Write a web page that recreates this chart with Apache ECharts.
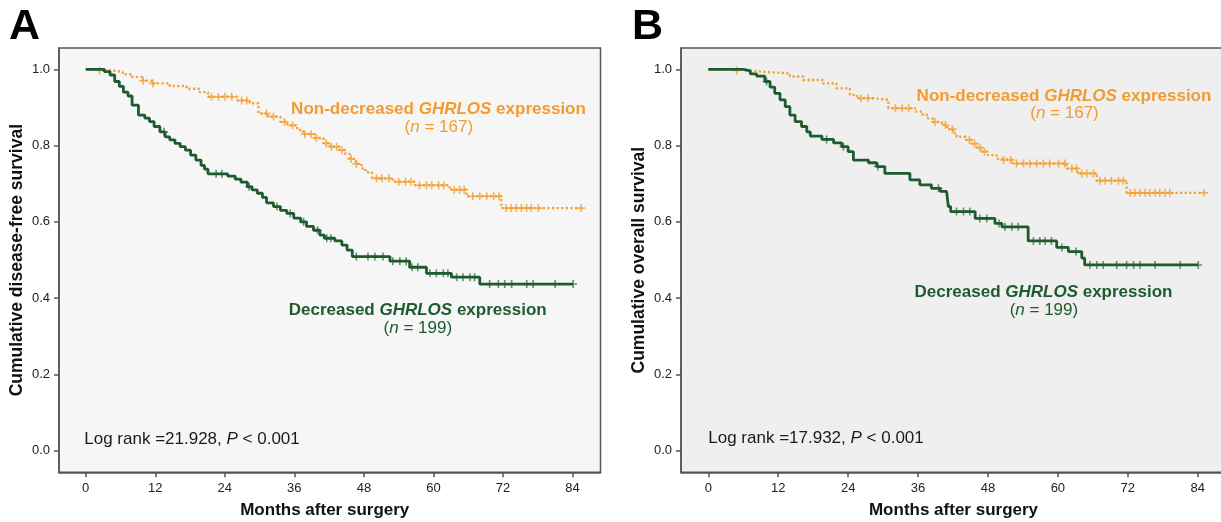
<!DOCTYPE html>
<html>
<head>
<meta charset="utf-8">
<script src="https://cdn.jsdelivr.net/npm/echarts@6/dist/echarts.min.js"></script>
<style>
html,body{margin:0;padding:0;background:#fff}
#chart{width:1221px;height:522px}
</style>
</head>
<body>
<div id="chart"></div>
<script>
// axis ticks
var monthTicks = [0, 12, 24, 36, 48, 60, 72, 84];
var survTicks = [0, 0.2, 0.4, 0.6, 0.8, 1.0];

// A: disease-free survival, decreased GHRLOS (n = 199)
var aDecTime = [0, 3.2, 4.2, 5.0, 5.8, 6.5, 7.3, 8.0, 9.1, 10.2, 11.0, 11.8, 12.8, 13.7, 14.5, 15.4, 16.3, 17.2, 18.1, 19.0, 19.9, 20.5, 21.1, 24.5, 25.8, 26.8, 27.9, 28.7, 29.6, 30.5, 31.2, 32.4, 33.6, 34.7, 35.9, 37.1, 38.1, 39.3, 40.4, 41.2, 43.0, 44.2, 45.1, 46.0, 52.5, 55.9, 58.8, 63.1, 68.0];
var aDecSurv = [1.0, 0.994, 0.985, 0.968, 0.955, 0.940, 0.930, 0.906, 0.880, 0.872, 0.863, 0.850, 0.836, 0.823, 0.815, 0.806, 0.797, 0.788, 0.775, 0.762, 0.748, 0.738, 0.726, 0.720, 0.712, 0.704, 0.692, 0.684, 0.675, 0.664, 0.650, 0.640, 0.630, 0.622, 0.610, 0.600, 0.588, 0.578, 0.565, 0.557, 0.550, 0.539, 0.526, 0.509, 0.497, 0.481, 0.465, 0.455, 0.437];
var aDecEnd = 84.1;
var aDecCensor = [13.5, 22.5, 23.5, 28.2, 33.0, 35.3, 37.6, 40.0, 41.6, 42.3, 46.7, 48.7, 49.9, 51.3, 53.0, 54.2, 55.3, 56.3, 57.3, 59.4, 60.5, 61.7, 62.5, 64.0, 65.1, 66.3, 67.1, 69.7, 71.2, 72.3, 73.5, 76.1, 77.2, 81.0, 84.1];

// A: non-decreased GHRLOS (n = 167)
var aNonTime = [0, 2.4, 4.7, 6.4, 7.9, 9.9, 11.6, 14.5, 17.4, 19.7, 21.1, 26.2, 28.3, 29.8, 31.5, 33.6, 34.8, 36.5, 37.5, 39.5, 41.0, 42.2, 43.8, 44.8, 45.6, 46.6, 47.6, 48.3, 49.4, 53.0, 56.8, 62.8, 65.7, 71.7];
var aNonSurv = [1.0, 0.997, 0.993, 0.987, 0.980, 0.970, 0.963, 0.956, 0.949, 0.940, 0.928, 0.918, 0.911, 0.884, 0.876, 0.862, 0.853, 0.841, 0.830, 0.820, 0.806, 0.797, 0.788, 0.778, 0.765, 0.752, 0.740, 0.730, 0.714, 0.705, 0.696, 0.684, 0.667, 0.636];
var aNonEnd = 85.5;
var aNonCensor = [2.4, 9.9, 11.6, 21.7, 22.9, 24.0, 25.2, 26.9, 27.8, 31.2, 32.4, 34.3, 35.7, 37.8, 38.9, 39.8, 41.5, 42.4, 43.3, 44.2, 45.8, 46.7, 50.2, 51.1, 52.3, 54.0, 55.2, 56.1, 57.6, 58.8, 59.7, 60.9, 61.8, 63.6, 64.5, 65.3, 66.8, 68.0, 69.2, 70.4, 71.3, 72.5, 73.4, 74.3, 75.2, 76.1, 76.9, 78.1, 85.5];

// B: overall survival, decreased GHRLOS (n = 199)
var bDecTime = [0, 6.0, 7.2, 8.3, 9.7, 10.6, 11.4, 12.3, 13.2, 14.0, 14.9, 16.0, 16.9, 17.5, 19.5, 21.5, 22.9, 24.0, 24.9, 27.5, 28.9, 30.3, 34.6, 36.3, 38.3, 39.8, 40.9, 41.2, 41.6, 45.8, 49.2, 50.4, 54.9, 59.8, 61.8, 64.1, 64.6];
var bDecSurv = [1.0, 0.996, 0.988, 0.982, 0.968, 0.953, 0.937, 0.920, 0.902, 0.880, 0.863, 0.850, 0.836, 0.825, 0.816, 0.807, 0.797, 0.784, 0.762, 0.755, 0.745, 0.727, 0.710, 0.697, 0.688, 0.680, 0.675, 0.640, 0.627, 0.609, 0.596, 0.587, 0.550, 0.533, 0.522, 0.505, 0.487];
var bDecEnd = 84.1;
var bDecCensor = [10.0, 20.3, 23.2, 29.1, 39.5, 42.6, 43.8, 44.9, 46.6, 47.8, 49.9, 50.9, 52.1, 53.2, 55.8, 56.9, 57.8, 58.9, 60.7, 63.1, 65.5, 66.7, 67.8, 70.1, 71.8, 73.0, 74.1, 76.7, 81.0, 84.1];

// B: non-decreased GHRLOS (n = 167)
var bNonTime = [0, 4.9, 7.2, 8.9, 14.0, 16.3, 19.7, 22.0, 24.3, 25.5, 28.3, 30.9, 35.5, 36.8, 37.7, 38.6, 40.1, 41.0, 42.0, 42.6, 44.2, 45.2, 46.0, 46.8, 48.0, 49.5, 50.6, 52.3, 61.5, 63.4, 66.7, 71.8];
var bNonSurv = [1.0, 0.997, 0.994, 0.989, 0.981, 0.972, 0.963, 0.950, 0.933, 0.924, 0.920, 0.898, 0.889, 0.880, 0.871, 0.862, 0.854, 0.843, 0.833, 0.823, 0.815, 0.805, 0.795, 0.784, 0.775, 0.765, 0.762, 0.753, 0.740, 0.727, 0.708, 0.676];
var bNonEnd = 85.1;
var bNonCensor = [4.9, 26.2, 27.4, 32.1, 33.3, 34.4, 38.9, 40.7, 41.9, 44.8, 45.7, 46.6, 47.4, 50.7, 51.9, 52.9, 54.1, 55.2, 56.4, 57.5, 58.6, 60.1, 61.2, 62.4, 63.2, 64.1, 65.0, 66.1, 67.2, 68.1, 69.2, 70.4, 71.2, 72.4, 73.2, 74.1, 75.0, 75.8, 76.7, 77.5, 78.4, 79.2, 85.1];

var ORANGE = '#F5A02F';
var ORANGE_TXT = '#F29B30';
var GREEN = '#1E5B2F';
var GREEN_MARK = '#3C7A4C';
var FONT = 'Liberation Sans, Arial, sans-serif';
var PLUS = 'path://M3.2,0 H4.8 V3.2 H8 V4.8 H4.8 V8 H3.2 V4.8 H0 V3.2 H3.2 Z';

// step curve points (last point carries the curve out to the last follow-up)
function kmData(times, surv, end) {
	var out = [];
	for (var i = 0; i < times.length; i++) out.push([times[i], surv[i]]);
	out.push([end, surv[surv.length - 1]]);
	return out;
}
// value of the step function at t, so the censor marks sit on the curve
function survAt(times, surv, t) {
	var v = surv[0];
	for (var i = 0; i < times.length; i++) { if (times[i] <= t) v = surv[i]; }
	return v;
}
function censorData(times, surv, cens) {
	return cens.map(function (c) { return [c, survAt(times, surv, c)]; });
}

function xAxisFor(idx, minV, maxV, nameShift) {
	return {
		type: 'value', gridIndex: idx, min: minV, max: maxV,
		name: 'Months after surgery', nameLocation: 'middle', nameGap: 30,
		nameTextStyle: { fontFamily: FONT, fontWeight: 'bold', fontSize: 17, color: '#111', padding: [0, nameShift, 0, 0] },
		axisLine: { show: true, onZero: false, lineStyle: { color: '#555', width: 1.5 } },
		axisTick: { show: true, customValues: monthTicks, length: 5, lineStyle: { color: '#555', width: 1.5 } },
		axisLabel: { customValues: monthTicks, margin: 10, fontFamily: FONT, fontSize: 13, color: '#222' },
		splitLine: { show: false }
	};
}
function yAxisFor(idx, title) {
	return {
		type: 'value', gridIndex: idx, min: -0.0566, max: 1.0558,
		name: title, nameLocation: 'middle', nameGap: 33,
		nameTextStyle: { fontFamily: FONT, fontWeight: 'bold', fontSize: 17.5, color: '#111' },
		axisLine: { show: true, onZero: false, lineStyle: { color: '#555', width: 1.5 } },
		axisTick: { show: true, customValues: survTicks, length: 5, lineStyle: { color: '#555', width: 1.5 } },
		axisLabel: { customValues: survTicks, margin: 9, fontFamily: FONT, fontSize: 13, color: '#222',
			formatter: function (v) { return v.toFixed(1); } },
		splitLine: { show: false }
	};
}
function stepSeries(idx, data, color, dotted) {
	return {
		type: 'line', xAxisIndex: idx, yAxisIndex: idx, step: 'end', data: data,
		symbol: 'none', silent: true, clip: true, animation: false,
		lineStyle: dotted ? { color: color, width: 2.4, type: [2.2, 2.4] } : { color: color, width: 2.8 }
	};
}
function censorSeries(idx, data, color) {
	return {
		type: 'scatter', xAxisIndex: idx, yAxisIndex: idx, data: data,
		symbol: PLUS, symbolSize: 8, silent: true, animation: false,
		itemStyle: { color: color }
	};
}
function rt(x, y, text, rich) {
	return { type: 'text', x: x, y: y, silent: true,
		style: { text: text, rich: rich, align: 'center', verticalAlign: 'middle', textAlign: 'center', textVerticalAlign: 'middle' } };
}
function richSet(color) {
	return {
		b: { font: 'bold 17px ' + FONT, fill: color, color: color },
		bi: { font: 'italic bold 17px ' + FONT, fill: color, color: color },
		r: { font: '17px ' + FONT, fill: color, color: color },
		i: { font: 'italic 17px ' + FONT, fill: color, color: color }
	};
}

var chart = echarts.init(document.getElementById('chart'));
var orangeRich = richSet(ORANGE_TXT), greenRich = richSet(GREEN), darkRich = richSet('#1a1a1a');

var option = {
	backgroundColor: '#ffffff',
	animation: false,
	grid: [
		{ left: 59, top: 48, width: 541.5, height: 424.3, show: true, backgroundColor: '#F6F6F6', borderColor: '#555', borderWidth: 1.5, outerBoundsMode: 'none' },
		{ left: 681, top: 48, width: 545, height: 424.3, show: true, backgroundColor: '#EFEFEF', borderColor: '#555', borderWidth: 1.5, outerBoundsMode: 'none' }
	],
	xAxis: [xAxisFor(0, -4.61, 88.83, 10), xAxisFor(1, -4.69, 88.86, 0)],
	yAxis: [yAxisFor(0, 'Cumulative disease-free survival'), yAxisFor(1, 'Cumulative overall survival')],
	series: [
		stepSeries(0, kmData(aNonTime, aNonSurv, aNonEnd), ORANGE, true),
		censorSeries(0, censorData(aNonTime, aNonSurv, aNonCensor), ORANGE),
		stepSeries(0, kmData(aDecTime, aDecSurv, aDecEnd), GREEN, false),
		censorSeries(0, censorData(aDecTime, aDecSurv, aDecCensor), GREEN_MARK),
		stepSeries(1, kmData(bNonTime, bNonSurv, bNonEnd), ORANGE, true),
		censorSeries(1, censorData(bNonTime, bNonSurv, bNonCensor), ORANGE),
		stepSeries(1, kmData(bDecTime, bDecSurv, bDecEnd), GREEN, false),
		censorSeries(1, censorData(bDecTime, bDecSurv, bDecCensor), GREEN_MARK)
	],
	graphic: [
		{ type: 'text', x: 9, y: 27.5, silent: true, style: { text: 'A', font: 'bold 43px ' + FONT, fill: '#000', verticalAlign: 'middle', textVerticalAlign: 'middle' } },
		{ type: 'text', x: 632, y: 27.5, silent: true, style: { text: 'B', font: 'bold 43px ' + FONT, fill: '#000', verticalAlign: 'middle', textVerticalAlign: 'middle' } },
		rt(438.5, 109, '{b|Non-decreased }{bi|GHRLOS}{b| expression}', orangeRich),
		rt(438.8, 127.5, '{r|(}{i|n}{r| = 167)}', orangeRich),
		rt(417.7, 310, '{b|Decreased }{bi|GHRLOS}{b| expression}', greenRich),
		rt(417.8, 328.5, '{r|(}{i|n}{r| = 199)}', greenRich),
		rt(192, 439, '{r|Log rank =21.928, }{i|P}{r| < 0.001}', darkRich),
		rt(1064, 96, '{b|Non-decreased }{bi|GHRLOS}{b| expression}', orangeRich),
		rt(1064.5, 113.5, '{r|(}{i|n}{r| = 167)}', orangeRich),
		rt(1043.5, 292.3, '{b|Decreased }{bi|GHRLOS}{b| expression}', greenRich),
		rt(1043.9, 310, '{r|(}{i|n}{r| = 199)}', greenRich),
		rt(816, 438, '{r|Log rank =17.932, }{i|P}{r| < 0.001}', darkRich)
	]
};
chart.setOption(option);
</script>
</body>
</html>
